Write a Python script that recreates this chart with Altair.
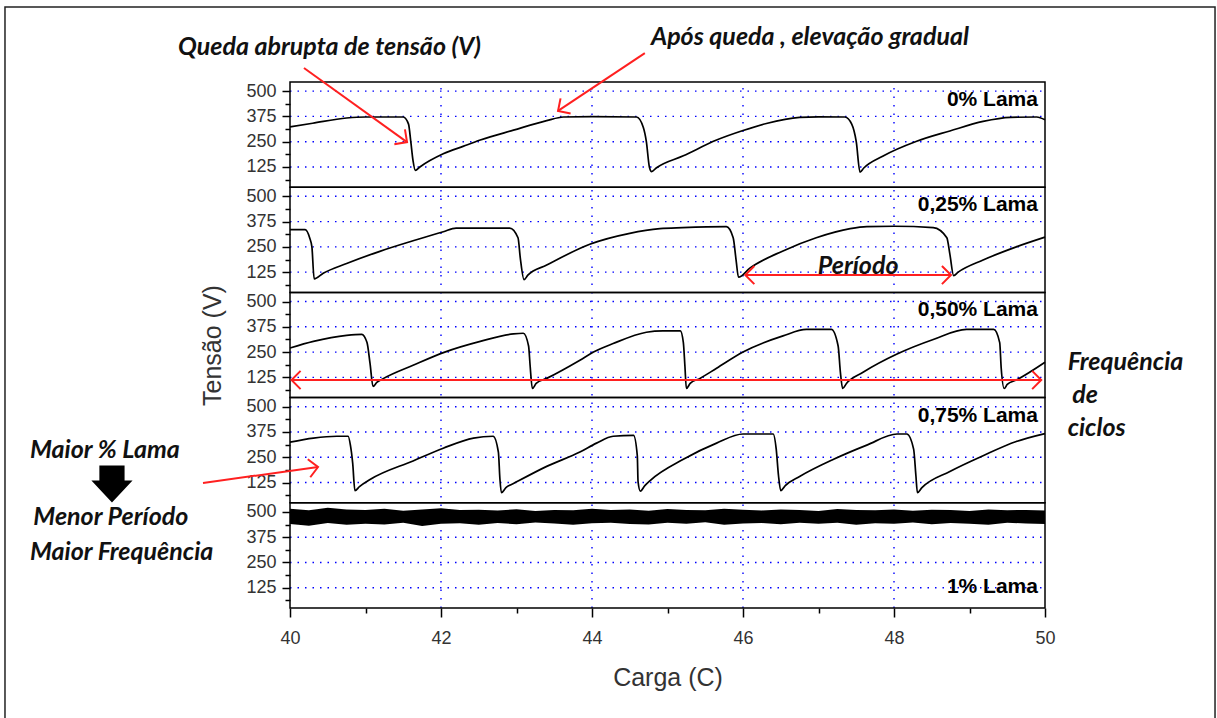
import math
import pandas as pd
import altair as alt

# ---------------- data ----------------
panel_labels = ["0% Lama", "0,25% Lama", "0,50% Lama", "0,75% Lama", "1% Lama"]

# 0 % Lama
c0_x = [40.0, 40.3, 40.75, 41.0, 41.5, 41.57, 41.6, 41.63, 41.66, 41.72, 42.03, 42.3, 42.52, 42.96,
        43.4, 43.62, 44.0, 44.59, 44.68, 44.72, 44.76, 44.79, 44.85, 45.21, 45.65, 46.0, 46.31, 46.75,
        47.0, 47.35, 47.44, 47.5, 47.55, 47.6, 47.85, 48.3, 48.74, 49.18, 49.54, 49.89, 50.0]
c0_v = [323, 341, 367, 372, 372, 337, 250, 155, 108, 125, 190, 228, 258, 307,
        354, 372, 374, 372, 320, 250, 125, 102, 120, 180, 258, 305, 340, 370,
        373, 372, 337, 250, 100, 120, 178, 252, 303, 350, 370, 372, 358]

# 0,25 % Lama
c1_x = [40.0, 40.2, 40.26, 40.29, 40.32, 40.44, 40.75, 41.19, 41.63, 42.03, 42.2, 42.91, 43.02, 43.05,
        43.1, 43.15, 43.4, 43.97, 44.5, 44.9, 45.2, 45.78, 45.87, 45.91, 45.94, 46.09, 46.53, 46.97,
        47.42, 47.64, 48.0, 48.52, 48.7, 48.74, 48.79, 48.85, 49.18, 49.62, 50.0]
c1_v = [335, 335, 295, 250, 92, 120, 168, 228, 280, 325, 343, 343, 295, 196,
        88, 110, 160, 263, 317, 340, 345, 350, 295, 180, 100, 145, 230, 295,
        340, 350, 352, 345, 295, 214, 108, 125, 185, 250, 298]

# 0,50 % Lama
c2_x = [40.0, 40.31, 40.75, 40.95, 41.02, 41.06, 41.1, 41.15, 41.24, 41.63, 42.05, 42.52, 42.96, 43.09,
        43.16, 43.18, 43.21, 43.26, 43.4, 43.84, 44.02, 44.28, 44.72, 44.94, 45.17, 45.21, 45.23, 45.25,
        45.3, 45.43, 45.65, 46.0, 46.53, 46.84, 47.17, 47.26, 47.29, 47.32, 47.37, 47.59, 48.04, 48.52,
        48.96, 49.32, 49.4, 49.42, 49.46, 49.5, 49.62, 50.0]
c2_v = [270, 303, 333, 338, 297, 194, 80, 100, 120, 185, 250, 303, 340, 343,
        280, 185, 70, 95, 120, 210, 250, 292, 348, 355, 355, 297, 185, 70,
        95, 120, 170, 250, 330, 362, 362, 280, 150, 70, 95, 150, 240, 312,
        362, 362, 297, 170, 70, 90, 112, 200]

# 0,75 % Lama
c3_x = [40.0, 40.31, 40.62, 40.77, 40.8, 40.83, 40.86, 40.92, 41.06, 41.63, 42.03, 42.43, 42.69, 42.76,
        42.78, 42.8, 42.86, 42.96, 43.4, 43.84, 44.06, 44.28, 44.55, 44.6, 44.61, 44.64, 44.7, 44.77,
        45.21, 45.65, 46.0, 46.4, 46.44, 46.47, 46.5, 46.56, 46.75, 47.2, 47.64, 48.04, 48.17, 48.26,
        48.29, 48.31, 48.37, 48.74, 49.18, 49.62, 50.0]
c3_v = [325, 345, 354, 354, 310, 222, 85, 105, 140, 232, 295, 345, 354, 276,
        145, 75, 100, 120, 205, 276, 320, 354, 358, 258, 130, 83, 110, 135,
        240, 320, 365, 365, 290, 160, 85, 110, 155, 240, 310, 365, 365, 290,
        160, 75, 100, 180, 258, 328, 367]

# 1 % Lama : noisy band (upper / lower envelope)
noise_x = [40.0, 40.25, 40.5, 40.75, 41.0, 41.25, 41.5, 41.75, 42.0, 42.25, 42.5, 42.75, 43.0, 43.25,
           43.5, 43.75, 44.0, 44.25, 44.5, 44.75, 45.0, 45.25, 45.5, 45.75, 46.0, 46.25, 46.5, 46.75,
           47.0, 47.25, 47.5, 47.75, 48.0, 48.25, 48.5, 48.75, 49.0, 49.25, 49.5, 49.75, 50.0]
noise_hi = [515, 508, 520, 512, 510, 516, 506, 512, 518, 509, 511, 507, 513, 505,
            510, 508, 515, 509, 512, 506, 514, 510, 508, 516, 511, 507, 512, 509,
            505, 514, 510, 508, 512, 506, 511, 509, 504, 512, 508, 510, 507]
noise_lo = [440, 432, 445, 436, 442, 438, 446, 430, 441, 444, 437, 445, 439, 448,
            443, 436, 444, 447, 440, 438, 446, 442, 449, 437, 443, 445, 439, 446,
            441, 447, 436, 444, 442, 448, 439, 445, 441, 437, 446, 443, 440]

y_major = [125, 250, 375, 500]
y_minor = [62.5, 187.5, 312.5, 437.5]
x_major = [40, 42, 44, 46, 48, 50]
x_minor = [41, 43, 45, 47, 49]
x_grid = [42, 44, 46, 48]

# ---------------- layout helpers ----------------
W, H = 755, 526
PANEL = 520
YMAX = 5 * PANEL
PX_X = W / 10.0
PX_Y = H / YMAX


def base(k):
    return (4 - k) * PANEL - 25


xs = alt.Scale(domain=[40, 50], nice=False, zero=False)
ys = alt.Scale(domain=[0, YMAX], nice=False, zero=False)

curves = [(c0_x, c0_v), (c1_x, c1_v), (c2_x, c2_v), (c3_x, c3_v)]
rows = []
for k, (cx, cv) in enumerate(curves):
    for a, b in zip(cx, cv):
        rows.append({"x": a, "y": b + base(k), "panel": k})
curve_df = pd.DataFrame(rows)

noise_df = pd.DataFrame({"x": noise_x,
                         "lo": [v + base(4) for v in noise_lo],
                         "hi": [v + base(4) for v in noise_hi]})

frame_df = pd.DataFrame({"x": [40] * 5, "x2": [50] * 5,
                         "y": [(4 - k) * PANEL for k in range(5)],
                         "y2": [(5 - k) * PANEL for k in range(5)]})

hgrid_df = pd.DataFrame([{"x": 40, "x2": 50, "y": v + base(k)} for k in range(5) for v in y_major])
vgrid_df = pd.DataFrame([{"x": g, "y": 0, "y2": YMAX} for g in x_grid])

lab_df = pd.DataFrame({"x": [49.907] * 5,
                       "y": [456 + base(0), 456 + base(1), 456 + base(2), 456 + base(3), 130 + base(4)],
                       "t": panel_labels})

major_vals = [v + base(k) for k in range(5) for v in y_major]
minor_vals = [v + base(k) for k in range(5) for v in y_minor]

TXT = "#333333"

# frames + main axes
frame_layer = alt.Chart(frame_df).mark_rect(fillOpacity=0, stroke="black", strokeWidth=1.5).encode(
    x=alt.X("x:Q", scale=xs, axis=alt.Axis(
        values=x_major, title="Carga (C)", grid=False, domain=False, tickSize=9, tickWidth=1.5,
        tickColor="black", labelFontSize=18, labelFont="Liberation Sans", labelColor=TXT,
        labelFlush=False, labelPadding=12, titleFont="Liberation Sans", titleFontSize=25,
        titleFontWeight="normal", titleColor=TXT, titlePadding=18, orient="bottom")),
    x2="x2:Q",
    y=alt.Y("y:Q", scale=ys, axis=alt.Axis(
        values=major_vals, labelExpr="(datum.value + 25) % 520", title="Tensão (V)", grid=False,
        domain=False, tickSize=8, tickWidth=1.5, tickColor="black", labelFontSize=18,
        labelFont="Liberation Sans", labelColor=TXT, labelOverlap=False, labelBound=False,
        labelFlush=False, labelPadding=6, titleFont="Liberation Sans", titleFontSize=25,
        titleFontWeight="normal", titleColor=TXT, titlePadding=20, orient="left")),
    y2="y2:Q",
)

# minor ticks
minor_layer = alt.Chart(frame_df).mark_point(opacity=0).encode(
    x=alt.X("x:Q", scale=xs, axis=alt.Axis(values=x_minor, labels=False, domain=False, grid=False,
                                           tickSize=5, tickWidth=1.5, tickColor="black", title="",
                                           orient="bottom")),
    y=alt.Y("y:Q", scale=ys, axis=alt.Axis(values=minor_vals, labels=False, domain=False, grid=False,
                                           tickSize=5, tickWidth=1.5, tickColor="black", title="",
                                           orient="left")),
)

hgrid = alt.Chart(hgrid_df).mark_rule(color="#0000ff", strokeDash=[1.5, 6], strokeWidth=1.4).encode(
    x=alt.X("x:Q", scale=xs, axis=None), x2="x2:Q", y=alt.Y("y:Q", scale=ys, axis=None))
vgrid = alt.Chart(vgrid_df).mark_rule(color="#0000ff", strokeDash=[1.5, 7], strokeWidth=1.4).encode(
    x=alt.X("x:Q", scale=xs, axis=None), y=alt.Y("y:Q", scale=ys, axis=None), y2="y2:Q")

lines = alt.Chart(curve_df).mark_line(color="black", strokeWidth=1.7, interpolate="monotone").encode(
    x=alt.X("x:Q", scale=xs, axis=None), y=alt.Y("y:Q", scale=ys, axis=None), detail="panel:N")

noise = alt.Chart(noise_df).mark_area(color="black", interpolate="linear").encode(
    x=alt.X("x:Q", scale=xs, axis=None), y=alt.Y("lo:Q", scale=ys, axis=None), y2="hi:Q")

labels = alt.Chart(lab_df).mark_text(align="right", baseline="middle", font="Liberation Sans",
                                     fontWeight="bold", fontSize=21, color="black").encode(
    x=alt.X("x:Q", scale=xs, axis=None), y=alt.Y("y:Q", scale=ys, axis=None), text="t:N")

# ---------------- annotations (data units) ----------------
ann_text = pd.DataFrame({
    "x": [38.517, 44.78, 46.99, 50.30, 50.36, 50.30, 36.556, 36.60, 36.556],
    "y": [2773, 2822, 1690, 1216, 1053, 890, 781, 450, 277],
    "t": ["Queda abrupta  de tensão (V)", "Após queda , elevação gradual", "Período",
          "Frequência", "de", "ciclos", "Maior % Lama", "Menor Período", "Maior Frequência"],
})
ann = alt.Chart(ann_text).mark_text(align="left", baseline="middle", font="Lato", fontStyle="italic",
                                    fontWeight="bold", fontSize=25, color="#111111").encode(
    x=alt.X("x:Q", scale=xs, axis=None), y=alt.Y("y:Q", scale=ys, axis=None), text="t:N")

arrows = [
    # x1, y1, x2, y2, head at start
    (40.185, 2669, 41.55, 2303, False),
    (44.70, 2743, 43.55, 2457, False),
    (48.755, 1646, 46.03, 1646, True),
    (49.95, 1127, 40.02, 1127, True),
    (38.848, 618, 40.371, 697, False),
]
seg_df = pd.DataFrame([{"x": a[0], "y": a[1], "x2": a[2], "y2": a[3]} for a in arrows])


def head_angle(xf, yf, xt, yt):
    dx = (xt - xf) * PX_X
    dy = -(yt - yf) * PX_Y
    return math.degrees(math.atan2(dx, -dy)) % 360


heads = []
for x1, y1, x2, y2, both in arrows:
    heads.append({"x": x2, "y": y2, "ang": head_angle(x1, y1, x2, y2)})
    if both:
        heads.append({"x": x1, "y": y1, "ang": head_angle(x2, y2, x1, y1)})
head_df = pd.DataFrame(heads)

segs = alt.Chart(seg_df).mark_rule(color="#ff2020", strokeWidth=2).encode(
    x=alt.X("x:Q", scale=xs, axis=None), y=alt.Y("y:Q", scale=ys, axis=None), x2="x2:Q", y2="y2:Q")
chev = alt.Chart(head_df).mark_point(shape="M -1 1 L 0 0 L 1 1", filled=False, color="#ff2020",
                                     strokeWidth=2, size=330, opacity=1).encode(
    x=alt.X("x:Q", scale=xs, axis=None), y=alt.Y("y:Q", scale=ys, axis=None),
    angle=alt.Angle("ang:Q", scale=None))

block_df = pd.DataFrame({"x": [37.642], "y": [613]})
block = alt.Chart(block_df).mark_point(
    shape="M -0.6 -0.88 L 0.6 -0.88 L 0.6 -0.17 L 0.98 -0.17 L 0 0.88 L -0.98 -0.17 L -0.6 -0.17 Z",
    filled=True, color="black", size=1764, opacity=1).encode(
    x=alt.X("x:Q", scale=xs, axis=None), y=alt.Y("y:Q", scale=ys, axis=None))

outer_df = pd.DataFrame({"x": [36.225], "x2": [52.252], "y": [2971], "y2": [-560]})
outer = alt.Chart(outer_df).mark_rect(fillOpacity=0, stroke="#222222", strokeWidth=1.5).encode(
    x=alt.X("x:Q", scale=xs, axis=None), x2="x2:Q", y=alt.Y("y:Q", scale=ys, axis=None), y2="y2:Q")

chart = alt.layer(
    outer, hgrid, vgrid, lines, noise, frame_layer, minor_layer, labels, segs, chev, ann, block
).resolve_axis(x="independent", y="independent").properties(
    width=W, height=H,
    autosize=alt.AutoSizeParams(type="none"),
    padding={"left": 290, "top": 82, "right": 172, "bottom": 110},
    background="white",
).configure_view(strokeWidth=0)

chart.save("out.html", embed_options={"renderer": "svg", "actions": False})
